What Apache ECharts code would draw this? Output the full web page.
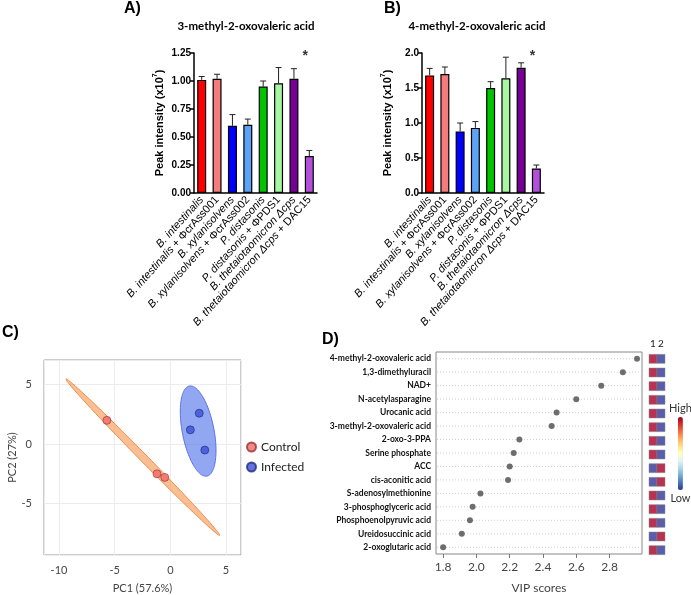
<!DOCTYPE html>
<html><head><meta charset="utf-8">
<script src="https://cdn.jsdelivr.net/npm/echarts@6/dist/echarts.min.js"></script>
<style>html,body{margin:0;padding:0;background:#fff}#c{width:691px;height:595px}</style>
</head><body><div id="c"></div>
<script>
// ---- data ----
const strains = ['B. intestinalis','B. intestinalis + ΦcrAss001','B. xylanisolvens','B. xylanisolvens + ΦcrAss002','P. distasonis','P. distasonis + ΦPDS1','B. thetaiotaomicron Δcps','B. thetaiotaomicron Δcps + DAC15'];
const barColors = ['#ff0000','#f47c7c','#0000ff','#5ca2f6','#00c400','#a8f5a2','#760096','#b250dc'];
const mean3M = [1.01,1.02,0.60,0.61,0.95,0.98,1.02,0.33];
const upper3M = [1.04,1.06,0.70,0.66,1.00,1.12,1.11,0.38];
const mean4M = [1.68,1.70,0.88,0.93,1.50,1.64,1.79,0.35];
const upper4M = [1.78,1.80,1.00,1.02,1.59,1.94,1.86,0.40];
const sigIndex = 7;

const controlPts = [[-5.7,2.0],[-1.2,-2.5],[-0.5,-2.8]];
const infectedPts = [[2.6,2.6],[1.8,1.2],[3.1,-0.5]];

const metabolites = ['4-methyl-2-oxovaleric acid','1,3-dimethyluracil','NAD+','N-acetylasparagine','Urocanic acid','3-methyl-2-oxovaleric acid','2-oxo-3-PPA','Serine phosphate','ACC','cis-aconitic acid','S-adenosylmethionine','3-phosphoglyceric acid','Phosphoenolpyruvic acid','Ureidosuccinic acid','2-oxoglutaric acid'];
const vip = [2.965,2.88,2.75,2.60,2.482,2.452,2.258,2.224,2.20,2.19,2.024,1.977,1.961,1.912,1.80];
const group1Level = [1,1,1,1,1,1,1,1,0,0,1,1,1,0,1];
const group2Level = [0,0,0,0,0,0,0,0,1,1,0,0,0,1,0];
const groupLabels = ['1','2'];

// ---- helpers ----
function confEllipse(pts, chi2, n) {
  const m = pts.length;
  const cx = pts.reduce((s,p)=>s+p[0],0)/m, cy = pts.reduce((s,p)=>s+p[1],0)/m;
  let sxx=0, syy=0, sxy=0;
  pts.forEach(p=>{sxx+=(p[0]-cx)**2; syy+=(p[1]-cy)**2; sxy+=(p[0]-cx)*(p[1]-cy);});
  sxx/=(m-1); syy/=(m-1); sxy/=(m-1);
  const mid=(sxx+syy)/2, d=Math.sqrt(((sxx-syy)/2)**2+sxy*sxy);
  const l1=mid+d, l2=Math.max(mid-d,0);
  const th=0.5*Math.atan2(2*sxy, sxx-syy);
  const a=Math.sqrt(chi2*l1), b=Math.sqrt(chi2*l2);
  const out=[];
  for(let i=0;i<n;i++){const t=2*Math.PI*i/n;
    out.push([cx+a*Math.cos(t)*Math.cos(th)-b*Math.sin(t)*Math.sin(th), cy+a*Math.cos(t)*Math.sin(th)+b*Math.sin(t)*Math.cos(th)]);}
  return {center:[cx,cy], pts:out};
}
const ellC = confEllipse(controlPts, 5.991, 160);
const ellI = confEllipse(infectedPts, 5.991, 160);

function strainFmt(v){const i=v.indexOf(' + ');if(i<0)return '{i|'+v+'}';return '{i|'+v.slice(0,i)+'}{n|'+v.slice(i)+'}';}
const labRich = {i:{fontStyle:'italic',fontSize:11,fontFamily:'Liberation Sans',color:'#000'},n:{fontSize:11,fontFamily:'Liberation Sans',color:'#000'}};
const blk = '#000';

function barXAxis(g){return {type:'category',gridIndex:g,data:strains,
  axisLine:{lineStyle:{color:blk,width:1.5}},
  axisTick:{alignWithLabel:true,length:4,lineStyle:{color:blk,width:1.5}},
  axisLabel:{interval:0,rotate:48,margin:5,formatter:strainFmt,rich:labRich}};}
function barYAxis(g,max,iv,dec){return {type:'value',gridIndex:g,min:0,max:max,interval:iv,
  axisLine:{show:true,lineStyle:{color:blk,width:1.5}},
  axisTick:{show:true,length:4,lineStyle:{color:blk,width:1.5}},
  splitLine:{show:false},
  axisLabel:{formatter:v=>v.toFixed(dec),fontFamily:'Liberation Sans',fontWeight:'bold',fontSize:10,color:blk,margin:3},
  name:'{a|Peak intensity (x10}{s|7}{a|)}',nameLocation:'middle',nameGap:27,
  nameTextStyle:{rich:{a:{fontFamily:'Liberation Sans',fontWeight:'bold',fontSize:11,color:blk},s:{fontFamily:'Liberation Sans',fontWeight:'bold',fontSize:7,color:blk,padding:[0,0,8,0]}}}};}
function barSeries(g,means){return {type:'bar',xAxisIndex:g,yAxisIndex:g,barWidth:9,
  data:means.map((v,i)=>({value:v,itemStyle:{color:barColors[i]}})),
  itemStyle:{borderColor:blk,borderWidth:1.2}};}
function errSeries(g,means,ups){return {type:'custom',xAxisIndex:g,yAxisIndex:g,z:5,
  data:means.map((v,i)=>[i,v,ups[i]]),
  renderItem:(p,api)=>{const a=api.coord([api.value(0),api.value(1)]);const b=api.coord([api.value(0),api.value(2)]);
    return {type:'group',children:[
      {type:'line',shape:{x1:a[0],y1:a[1],x2:b[0],y2:b[1]},style:{stroke:'#222',lineWidth:1}},
      {type:'line',shape:{x1:b[0]-3,y1:b[1],x2:b[0]+3,y2:b[1]},style:{stroke:'#222',lineWidth:1}}]};}};}
function starSeries(g,yv){return {type:'scatter',xAxisIndex:g,yAxisIndex:g,symbolSize:0,silent:true,
  data:[[sigIndex,yv]],label:{show:true,formatter:'*',position:'inside',offset:[-4,0],fontSize:14,fontWeight:'bold',fontFamily:'Liberation Sans',color:blk}};}
function ellSeries(e,fill,stroke){return {type:'custom',xAxisIndex:2,yAxisIndex:2,silent:true,z:1,
  data:[e.center],renderItem:(p,api)=>({type:'polygon',shape:{points:e.pts.map(q=>api.coord(q))},style:{fill:fill,stroke:stroke,lineWidth:1}})};}

const gray = '#444';
const option = {
  animation:false,
  title:[
    {text:'A)',left:124,top:1,padding:0,textStyle:{fontFamily:'Liberation Sans',fontWeight:'bold',fontSize:16,color:blk}},
    {text:'3-methyl-2-oxovaleric acid',left:246,top:20,padding:0,textAlign:'center',textStyle:{fontFamily:'Lato',fontWeight:'bold',fontSize:11.5,color:blk}},
    {text:'B)',left:384,top:1,padding:0,textStyle:{fontFamily:'Liberation Sans',fontWeight:'bold',fontSize:16,color:blk}},
    {text:'4-methyl-2-oxovaleric acid',left:477,top:20,padding:0,textAlign:'center',textStyle:{fontFamily:'Lato',fontWeight:'bold',fontSize:11.5,color:blk}},
    {text:'C)',left:2,top:325,padding:0,textStyle:{fontFamily:'Liberation Sans',fontWeight:'bold',fontSize:16,color:blk}},
    {text:'D)',left:322,top:332,padding:0,textStyle:{fontFamily:'Liberation Sans',fontWeight:'bold',fontSize:16,color:blk}}
  ],
  grid:[
    {left:194,top:53,width:123,height:140},
    {left:422,top:53,width:122,height:140},
    {left:44,top:360,width:197,height:197,show:true,borderColor:'#999',borderWidth:1},
    {left:436,top:352,width:206,height:205,show:true,borderColor:'#888',borderWidth:1},
    {left:649,top:352,width:16,height:205}
  ],
  xAxis:[
    barXAxis(0), barXAxis(1),
    {type:'value',gridIndex:2,min:-11.35,max:6.35,splitNumber:3,axisLine:{show:false},axisTick:{show:false},
     splitLine:{show:true,lineStyle:{color:'#ececec'}},
     axisLabel:{showMinLabel:false,showMaxLabel:false,fontFamily:'Lato',fontSize:11,color:gray,margin:10},
     name:'PC1 (57.6%)',nameLocation:'middle',nameGap:28,nameTextStyle:{fontFamily:'Lato',fontSize:11,color:gray}},
    {type:'value',gridIndex:3,min:1.757,max:2.995,splitNumber:6,axisLine:{show:false},
     axisTick:{show:true,length:4,lineStyle:{color:'#777'}},splitLine:{show:false},
     axisLabel:{showMinLabel:false,showMaxLabel:false,fontFamily:'Lato',fontSize:12,color:gray,margin:7,formatter:v=>v.toFixed(1)},
     name:'VIP scores',nameLocation:'middle',nameGap:28,nameTextStyle:{fontFamily:'Lato',fontSize:12,color:gray}},
    {type:'category',gridIndex:4,data:groupLabels,position:'top',axisLine:{show:false},axisTick:{show:false},
     axisLabel:{margin:3,fontFamily:'Lato',fontSize:10,color:'#222'}}
  ],
  yAxis:[
    barYAxis(0,1.25,0.25,2), barYAxis(1,2.0,0.5,1),
    {type:'value',gridIndex:2,min:-9.33,max:7.08,splitNumber:3,axisLine:{show:false},axisTick:{show:false},
     splitLine:{show:true,lineStyle:{color:'#ececec'}},
     axisLabel:{showMinLabel:false,showMaxLabel:false,fontFamily:'Lato',fontSize:11,color:gray,margin:12},
     name:'PC2 (27%)',nameLocation:'middle',nameGap:26,nameTextStyle:{fontFamily:'Lato',fontSize:11,color:gray}},
    {type:'category',gridIndex:3,data:metabolites,inverse:true,axisLine:{show:false},axisTick:{show:false},
     axisLabel:{fontFamily:'Lato',fontWeight:'bold',fontSize:8.5,color:'#111',margin:5}},
    {type:'category',gridIndex:4,data:metabolites,inverse:true,show:false}
  ],
  legend:{data:['Control','Infected'],orient:'vertical',left:246,top:441,itemWidth:9,itemHeight:9,itemGap:8,
    icon:'circle',textStyle:{fontFamily:'Lato',fontSize:12,color:'#222'},padding:0},
  visualMap:{type:'continuous',seriesIndex:12,min:0,max:1,orient:'vertical',left:669,top:403,itemWidth:5,itemHeight:73,
    text:['High','Low'],textGap:3,calculable:false,padding:0,
    inRange:{color:['#313695','#4575b4','#74add1','#abd9e9','#e0f3f8','#ffffbf','#fee090','#fdae61','#f46d43','#d73027','#a50026']},
    textStyle:{fontFamily:'Lato',fontSize:11,color:'#333'}},
  series:[
    barSeries(0,mean3M), errSeries(0,mean3M,upper3M), starSeries(0,1.22),
    barSeries(1,mean4M), errSeries(1,mean4M,upper4M), starSeries(1,1.95),
    ellSeries(ellC,'rgba(246,164,100,0.7)','#f08a48'),
    ellSeries(ellI,'rgba(100,130,236,0.7)','#5a6ee6'),
    {name:'Control',type:'scatter',xAxisIndex:2,yAxisIndex:2,symbolSize:8,z:3,data:controlPts,
     itemStyle:{color:'#f06a6a',borderColor:'#9a3030',borderWidth:0.8}},
    {name:'Infected',type:'scatter',xAxisIndex:2,yAxisIndex:2,symbolSize:8,z:3,data:infectedPts,
     itemStyle:{color:'#3c50d6',borderColor:'#1e2a80',borderWidth:0.8}},
    {type:'custom',xAxisIndex:3,yAxisIndex:3,silent:true,z:1,data:metabolites.map((m,i)=>[vip[i],m]),
     renderItem:(p,api)=>{const y=api.coord([api.value(0),api.value(1)])[1];const cs=p.coordSys;
       return {type:'line',shape:{x1:cs.x+1,y1:y,x2:cs.x+cs.width-1,y2:y},style:{stroke:'#d0d0d0',lineWidth:1,lineDash:[1,2]}};}},
    {type:'scatter',xAxisIndex:3,yAxisIndex:3,symbolSize:6,z:3,data:metabolites.map((m,i)=>[vip[i],m]),
     itemStyle:{color:'#4a4a4a'}},
    {type:'scatter',xAxisIndex:4,yAxisIndex:4,symbol:'rect',symbolSize:[8,9],
     data:metabolites.flatMap((m,i)=>[[groupLabels[0],m,group1Level[i]],[groupLabels[1],m,group2Level[i]]]),
     itemStyle:{borderColor:'#888',borderWidth:0.6}}
  ]
};
const chart = echarts.init(document.getElementById('c'));
chart.setOption(option);
</script></body></html>
